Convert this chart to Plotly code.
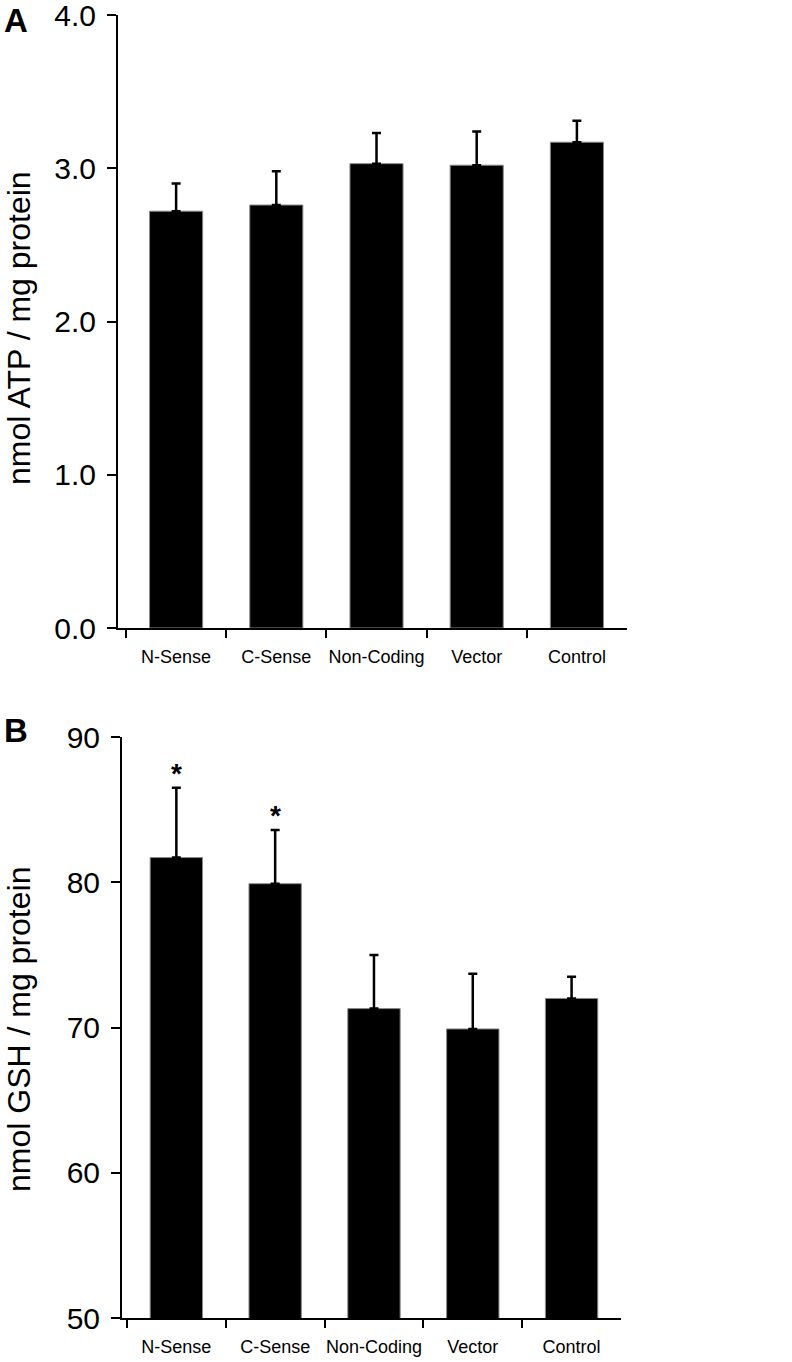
import plotly.graph_objects as go

categories = ["N-Sense", "C-Sense", "Non-Coding", "Vector", "Control"]
atp_mean = [2.72, 2.76, 3.03, 3.02, 3.17]
atp_err = [0.18, 0.22, 0.20, 0.22, 0.14]
gsh_mean = [81.7, 79.9, 71.3, 69.9, 72.0]
gsh_err = [4.8, 3.7, 3.7, 3.8, 1.5]
gsh_sig = ["*", "*", "", "", ""]

W, H = 792, 1362
FONT = "Liberation Sans, Arial, sans-serif"


def px(x):
    return x / W


def py(y):
    return 1 - y / H


fig = go.Figure()
fig.add_trace(go.Bar(
    x=categories, y=atp_mean, xaxis="x", yaxis="y",
    marker=dict(color="black", line=dict(color="#8a8a8a", width=1)),
    error_y=dict(type="data", array=atp_err, arrayminus=[0] * len(atp_err), symmetric=False,
                 color="black", thickness=2.5, width=4.5),
    showlegend=False,
))
fig.add_trace(go.Bar(
    x=categories, y=gsh_mean, xaxis="x2", yaxis="y2",
    marker=dict(color="black", line=dict(color="#8a8a8a", width=1)),
    error_y=dict(type="data", array=gsh_err, arrayminus=[0] * len(gsh_err), symmetric=False,
                 color="black", thickness=2.5, width=4.5),
    showlegend=False,
))

annotations = []
for c, m, e, s in zip(categories, gsh_mean, gsh_err, gsh_sig):
    if s:
        annotations.append(dict(x=c, y=m + e, xref="x2", yref="y2", text="<b>" + s + "</b>",
                                showarrow=False, yanchor="bottom", yshift=-3,
                                font=dict(size=28, color="black", family=FONT)))
annotations.append(dict(x=px(2), y=py(20), xref="paper", yref="paper", text="<b>A</b>",
                        showarrow=False, xanchor="left", yanchor="middle",
                        font=dict(size=33, color="black", family=FONT)))
annotations.append(dict(x=px(2), y=py(731), xref="paper", yref="paper", text="<b>B</b>",
                        showarrow=False, xanchor="left", yanchor="middle",
                        font=dict(size=33, color="black", family=FONT)))
annotations.append(dict(x=px(19), y=py(328), xref="paper", yref="paper",
                        text="nmol ATP / mg protein", textangle=-90, showarrow=False,
                        xanchor="center", yanchor="middle",
                        font=dict(size=32, color="black", family=FONT)))
annotations.append(dict(x=px(19), y=py(1030), xref="paper", yref="paper",
                        text="nmol GSH / mg protein", textangle=-90, showarrow=False,
                        xanchor="center", yanchor="middle",
                        font=dict(size=32, color="black", family=FONT)))

xcommon = dict(type="category", tickson="boundaries", ticks="outside", ticklen=8, tickwidth=2,
               tickcolor="black", showline=True, linewidth=2, linecolor="black", showgrid=False,
               zeroline=False, automargin=False, tickangle=0, ticklabelstandoff=11,
               tickfont=dict(size=18, color="black", family=FONT))
ycommon = dict(ticks="outside", ticklen=9, tickwidth=2, tickcolor="black", showline=True,
               linewidth=2, linecolor="black", showgrid=False, zeroline=False, automargin=False,
               ticklabelstandoff=5, ticklabeloverflow="allow",
               tickfont=dict(size=30, color="black", family=FONT))

fig.update_layout(
    width=W, height=H,
    margin=dict(l=0, r=0, t=0, b=0),
    paper_bgcolor="white", plot_bgcolor="white",
    bargap=0.47,
    font=dict(family=FONT, color="black"),
    xaxis=dict(domain=[px(118), px(627)], anchor="y", range=[-0.58, 4.5], **xcommon),
    yaxis=dict(domain=[py(628), py(15)], anchor="x", range=[0, 4], dtick=1,
               tickformat=".1f", **ycommon),
    xaxis2=dict(domain=[px(122), px(621)], anchor="y2", range=[-0.55, 4.5], **xcommon),
    yaxis2=dict(domain=[py(1318), py(737)], anchor="x2", range=[50, 90], dtick=10,
                **ycommon),
    annotations=annotations,
)

fig.write_html(
    "out.html",
    config={"displayModeBar": False},
    post_script="document.body.style.margin='0';document.body.style.overflow='hidden';",
)
